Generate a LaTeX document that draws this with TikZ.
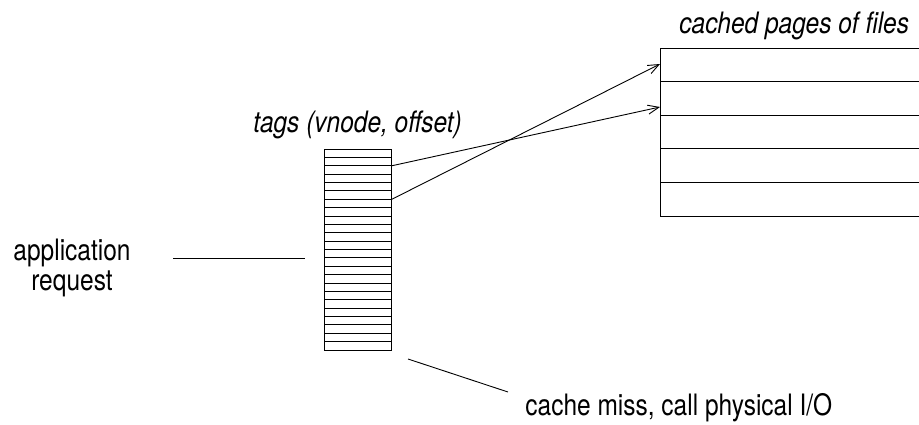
\documentclass[tikz,border=0pt]{standalone}
\usepackage{fontspec}
\setmainfont{TeX Gyre Heros}[FakeStretch=0.83]
\usetikzlibrary{arrows.meta}
\begin{document}
\begin{tikzpicture}[x=1pt,y=-1pt,
  line width=0.9pt,
  lbl/.style={inner sep=0pt,font=\fontsize{29.5}{30.5}\selectfont},
  ilbl/.style={lbl,font=\fontsize{29.5}{30.5}\selectfont\itshape},
  ptr/.style={-{Straight Barb[length=11pt,width=9pt,line width=0.9pt]}},
  ruleline/.style={line width=0.9pt}]
\useasboundingbox (0,0) rectangle (919,424);
% tag array
\node[draw,ruleline,minimum width=67pt,minimum height=201pt,inner sep=0pt,anchor=north west] (tags) at (324,149) {};
\foreach \k in {1,...,23} {
  \draw[ruleline] ([yshift=-\k*8.375pt]tags.north west) -- ([yshift=-\k*8.375pt]tags.north east);
}
\coordinate (t2) at ([yshift=-2*8.375pt]tags.north east);
\coordinate (t6) at ([yshift=-6*8.375pt]tags.north east);
% cache pages (right side open)
\coordinate (cnw) at (660,48);
\coordinate (csw) at (660,216);
\draw[ruleline] (919,48) -- (cnw) -- (csw) -- (919,216);
\foreach \k in {1,...,4} {
  \draw[ruleline] (660,48+\k*33.6) -- (919,48+\k*33.6);
}
\coordinate (p1) at (660,64);
\coordinate (p2) at (660,107);
% arrows
\draw[ptr] (t2) -- (p2);
\draw[ptr] (t6) -- (p1);
% labels
\node[ilbl,anchor=base west] (tagslbl) at (253,132) {tags (vnode, offset)};
\node[ilbl,anchor=base west] (cachelbl) at (679,33) {cached pages of files};
\node[lbl,align=center,anchor=center] (app) at (72,268) {application\\request};
\node[lbl,anchor=base west] (miss) at (525,415) {cache miss, call physical I/O};
% connectors
\coordinate (a1) at (173,258);
\coordinate (a2) at (305,258);
\draw[ruleline] (a1) -- (a2);
\coordinate (m1) at (408,359);
\coordinate (m2) at (508,392);
\draw[ruleline] (m1) -- (m2);
\end{tikzpicture}
\end{document}
